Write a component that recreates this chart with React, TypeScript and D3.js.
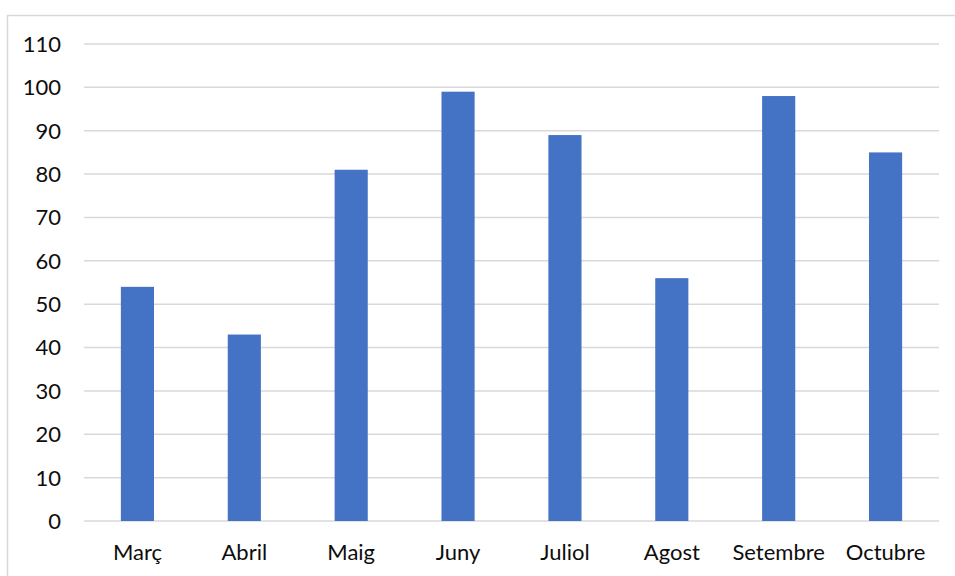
import { useEffect, useRef } from "react";
import * as d3 from "d3";

const months = ["Març", "Abril", "Maig", "Juny", "Juliol", "Agost", "Setembre", "Octubre"];
const values = [54, 43, 81, 99, 89, 56, 98, 85];
const yTicks = [0, 10, 20, 30, 40, 50, 60, 70, 80, 90, 100, 110];

export default function App() {
  const svgRef = useRef<SVGSVGElement>(null);
  const width = 955;
  const height = 576;

  useEffect(() => {
    const left = 84, right = 939, top = 44, bottom = 521;
    const svg = d3.select(svgRef.current);
    svg.selectAll("*").remove();

    const x = d3.scaleBand<string>().domain(months).range([left, right]).paddingInner(0.69).paddingOuter(0.345);
    const y = d3.scaleLinear().domain([0, 110]).range([bottom, top]);

    // chart frame (cut off at right and bottom like the original)
    svg.append("rect")
      .attr("x", 7.5).attr("y", 15.5)
      .attr("width", 980).attr("height", 600)
      .attr("fill", "#fff").attr("stroke", "#d9d9d9").attr("stroke-width", 1.5);

    // gridlines
    svg.append("g").selectAll("line").data(yTicks).join("line")
      .attr("x1", left).attr("x2", right)
      .attr("y1", d => y(d)).attr("y2", d => y(d))
      .attr("stroke", "#d9d9d9").attr("stroke-width", 1.5);

    // y labels
    svg.append("g").selectAll("text").data(yTicks).join("text")
      .attr("x", 61).attr("y", d => y(d)).attr("dy", "0.36em")
      .attr("text-anchor", "end")
      .style("font-family", "Lato, 'Open Sans', sans-serif")
      .style("font-size", "22px").style("fill", "#0d0d0d")
      .text(d => d);

    // bars
    svg.append("g").selectAll("rect").data(values).join("rect")
      .attr("x", (_, i) => x(months[i])!)
      .attr("width", x.bandwidth())
      .attr("y", d => y(d))
      .attr("height", d => bottom - y(d))
      .attr("fill", "#4472C4");

    // x labels
    svg.append("g").selectAll("text").data(months).join("text")
      .attr("x", d => x(d)! + x.bandwidth() / 2).attr("y", 560)
      .attr("text-anchor", "middle")
      .style("font-family", "Lato, 'Open Sans', sans-serif")
      .style("font-size", "22px").style("fill", "#0d0d0d")
      .text(d => d);
  }, []);

  return (
    <div style={{ position: "fixed", left: 0, top: 0, width, height, background: "#fff" }}>
      <svg ref={svgRef} width={width} height={height} style={{ display: "block" }}></svg>
    </div>
  );
}
